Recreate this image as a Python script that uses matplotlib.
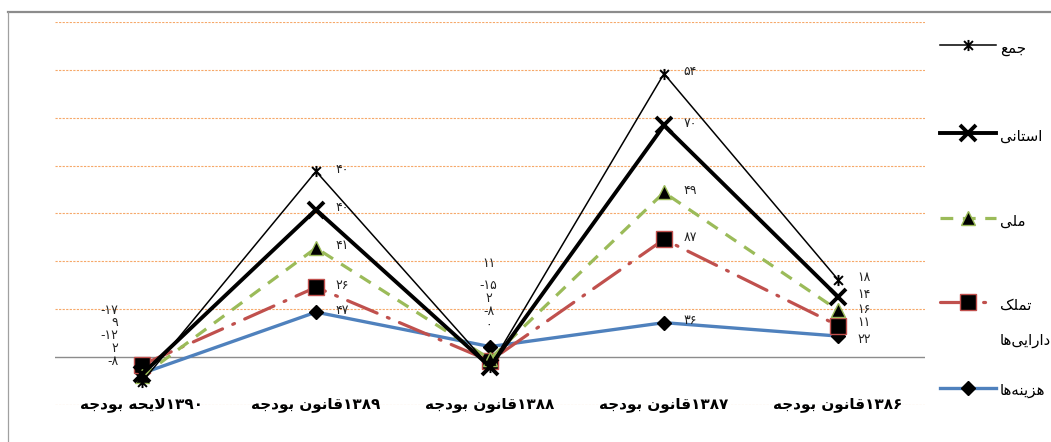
import re
import numpy as np
import matplotlib
matplotlib.use('Agg')
import matplotlib.pyplot as plt
from matplotlib.lines import Line2D
from matplotlib.path import Path

plt.rcParams['font.family'] = ['DejaVu Sans']

# ---------------- data ----------------
categories = ['۱۳۹۰لایحه بودجه', '۱۳۸۹قانون بودجه', '۱۳۸۸قانون بودجه',
              '۱۳۸۷قانون بودجه', '۱۳۸۶قانون بودجه']
# stacked order (bottom -> top)
series_names = ['هزینه‌ها', 'تملک دارایی‌ها', 'ملی', 'استانی', 'جمع']
hazineha = [-17, 47, 11, 36, 22]
tamalok = [9, 26, -15, 87, 11]
melli = [-12, 41, 2, 49, 16]
ostani = [2, 40, -8, 70, 14]
jam = [-8, 40, 0, 54, 18]
y_grid = [-50, 50, 100, 150, 200, 250, 300, 350]

# ---------------- Persian shaping helpers ----------------
FORMS = {
    '\u0627': (0xFE8D, 0xFE8E, None, None),
    '\u0628': (0xFE8F, 0xFE90, 0xFE91, 0xFE92),
    '\u062A': (0xFE95, 0xFE96, 0xFE97, 0xFE98),
    '\u062C': (0xFE9D, 0xFE9E, 0xFE9F, 0xFEA0),
    '\u062D': (0xFEA1, 0xFEA2, 0xFEA3, 0xFEA4),
    '\u062F': (0xFEA9, 0xFEAA, None, None),
    '\u0631': (0xFEAD, 0xFEAE, None, None),
    '\u0632': (0xFEAF, 0xFEB0, None, None),
    '\u0633': (0xFEB1, 0xFEB2, 0xFEB3, 0xFEB4),
    '\u0639': (0xFEC9, 0xFECA, 0xFECB, 0xFECC),
    '\u0642': (0xFED5, 0xFED6, 0xFED7, 0xFED8),
    '\u0644': (0xFEDD, 0xFEDE, 0xFEDF, 0xFEE0),
    '\u0645': (0xFEE1, 0xFEE2, 0xFEE3, 0xFEE4),
    '\u0646': (0xFEE5, 0xFEE6, 0xFEE7, 0xFEE8),
    '\u0647': (0xFEE9, 0xFEEA, 0xFEEB, 0xFEEC),
    '\u0648': (0xFEED, 0xFEEE, None, None),
    '\u06A9': (0xFB8E, 0xFB8F, 0xFB90, 0xFB91),
    '\u06CC': (0xFBFC, 0xFBFD, 0xFBFE, 0xFBFF),
}


def _dual(c):
    return c in FORMS and FORMS[c][2] is not None


def shape(s):
    out = []
    i, n = 0, len(s)
    while i < n:
        c = s[i]
        if c not in FORMS:
            if c != '\u200c':
                out.append(c)
            i += 1
            continue
        prev = s[i - 1] if i > 0 else None
        con_prev = prev is not None and _dual(prev)
        if c == '\u0644' and i + 1 < n and s[i + 1] == '\u0627':
            out.append(chr(0xFEFC if con_prev else 0xFEFB))
            i += 2
            continue
        nxt = s[i + 1] if i + 1 < n else None
        con_next = _dual(c) and nxt is not None and nxt in FORMS
        iso, fin, ini, med = FORMS[c]
        if con_prev and con_next:
            g = med
        elif con_prev:
            g = fin
        elif con_next:
            g = ini
        else:
            g = iso
        out.append(chr(g))
        i += 1
    return ''.join(out)


DIG = '[\u06F0-\u06F90-9]'


def visual(s):
    shaped = shape(s)
    runs = re.findall(DIG + '+|[^\u06F0-\u06F90-9]+', shaped)
    out = []
    for r in reversed(runs):
        out.append(r if re.match(DIG, r) else r[::-1])
    return ''.join(out)


def fa_num(v):
    digs = ''.join(chr(0x06F0 + int(d)) for d in str(abs(int(v))))
    return ('-' if v < 0 else '') + digs


# ---------------- figure ----------------
W, H = 1051, 442
fig = plt.figure(figsize=(W / 100, H / 100), dpi=100)
ax = fig.add_axes([55 / W, 1 - 405 / H, 870 / W, 383 / H])
ax.set_xlim(-0.5, 4.5)
ax.set_ylim(-50, 350)
ax.axis('off')

for g in y_grid:
    ax.axhline(g, color='#F6A869', lw=0.8, ls=(0, (2, 1.2)), zorder=1)
ax.axhline(0, color='#8C8C8C', lw=1.0, zorder=1)

x = np.arange(len(categories))
values = np.array([hazineha, tamalok, melli, ostani, jam], dtype=float)
cum = np.cumsum(values, axis=0)

star_path = Path([(-1, -1), (1, 1), (-1, 1), (1, -1), (0, -1.25), (0, 1.25)],
                 [Path.MOVETO, Path.LINETO, Path.MOVETO, Path.LINETO,
                  Path.MOVETO, Path.LINETO])

styles = [
    dict(color='#4F81BD', lw=2.4, ls='-', marker='D', ms=7, mfc='black', mec='black', mew=1),
    dict(color='#C0504D', lw=2.3, ls=(0, (10, 3.5, 0.6, 3.5)), marker='s', ms=11,
         mfc='black', mec='#C0504D', mew=1, dash_capstyle='round'),
    dict(color='#9BBB59', lw=2.3, ls=(0, (4, 3)), marker='^', ms=10,
         mfc='black', mec='#9BBB59', mew=1),
    dict(color='black', lw=2.8, ls='-', marker='x', ms=11, mfc='black', mec='black', mew=2.8),
    dict(color='black', lw=1.1, ls='-', marker=star_path, ms=8, mfc='none', mec='black', mew=1.4),
]

for k in range(len(series_names)):
    ax.plot(x, cum[k], zorder=3 + k, **styles[k])

# category labels
for i, c in enumerate(categories):
    ax.text(i, -50, visual(c), ha='center', va='center', fontsize=11,
            fontweight='bold', color='black', zorder=10)

# data labels
lab_fs = 9
dy_1386 = [-2.5, 2.5, 0.5, 1.5, 1.5]
for i in [1, 3, 4]:
    for k in range(len(series_names)):
        dy = dy_1386[k] if i == 4 else 1.5
        ax.annotate(fa_num(values[k, i]), xy=(i, cum[k, i]), xytext=(14, dy),
                    textcoords='offset points', ha='left', va='center',
                    fontsize=lab_fs, color='#222222', zorder=12)

col_1390 = [49, 36, 23, 9, -5]
for k in range(len(series_names)):
    ax.annotate(fa_num(values[k, 0]), xy=(0, col_1390[k]), xytext=(-17, 0),
                textcoords='offset points', ha='right', va='center',
                fontsize=lab_fs, color='#222222', zorder=12)

col_1388 = [98, 75, 61, 48, 33]
for k in range(len(series_names)):
    ax.annotate(fa_num(values[k, 2]), xy=(2, col_1388[k]), xytext=(-1, 0),
                textcoords='offset points', ha='center', va='center',
                fontsize=lab_fs, color='#222222', zorder=12)

# chart-area border
fig.add_artist(Line2D([8 / W, 1], [1 - 12 / H, 1 - 12 / H], color='#8C8C8C', lw=1.6))
fig.add_artist(Line2D([8 / W, 8 / W], [0, 1 - 12 / H], color='#A0A0A0', lw=0.9))

# legend (top to bottom: جمع, استانی, ملی, تملک, هزینه‌ها)
leg_y = [45, 133, 218, 302, 388]
for pos, k in enumerate([4, 3, 2, 1, 0]):
    yy = 1 - leg_y[pos] / H
    st = dict(styles[k])
    mk = {key: st.pop(key) for key in ['marker', 'ms', 'mfc', 'mec', 'mew']}
    fig.add_artist(Line2D([940 / W, 996 / W], [yy, yy], **st))
    fig.add_artist(Line2D([968 / W], [yy], ls='none', **{'marker': mk['marker'],
                          'markersize': mk['ms'], 'markerfacecolor': mk['mfc'],
                          'markeredgecolor': mk['mec'], 'markeredgewidth': mk['mew']}))

leg_texts = [('جمع', 48), ('استانی', 136), ('ملی', 221), ('تملک', 305),
             ('دارایی‌ها', 340), ('هزینه‌ها', 390)]
for t, yy in leg_texts:
    fig.text(1000 / W, 1 - yy / H, visual(t), ha='left', va='center', fontsize=10.8)

fig.savefig('out.png', dpi=100)
